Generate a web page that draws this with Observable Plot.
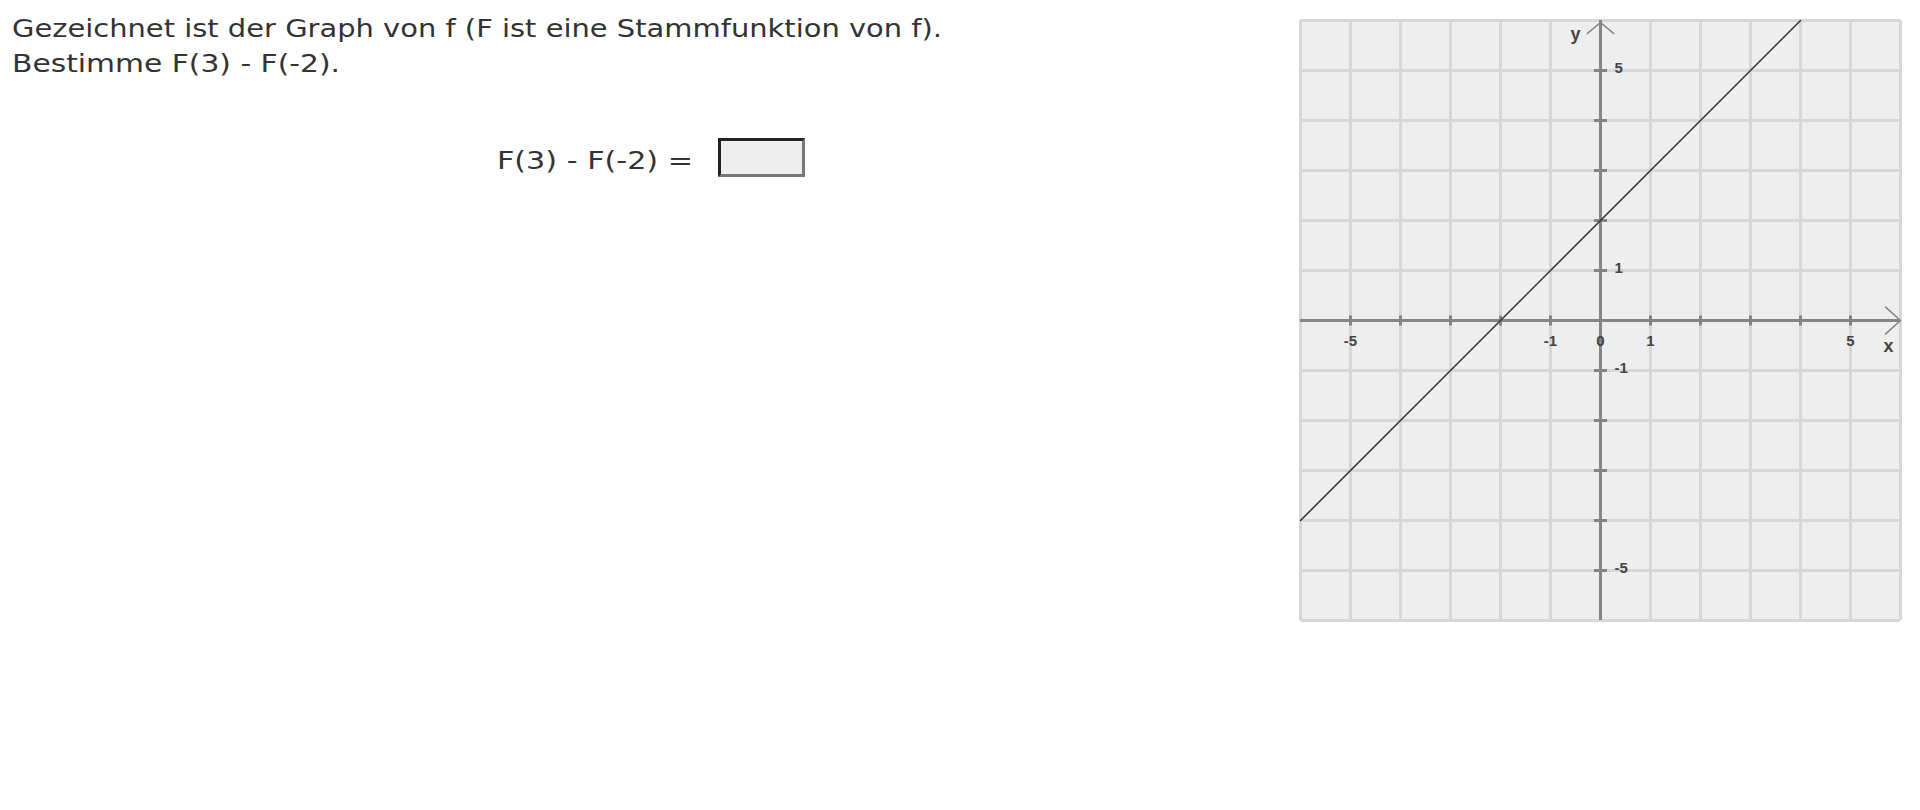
<!DOCTYPE html>
<html>
<head>
<meta charset="utf-8">
<script src="https://cdn.jsdelivr.net/npm/d3@7"></script>
<script src="https://cdn.jsdelivr.net/npm/@observablehq/plot@0.6"></script>
<style>
  html, body { margin: 0; padding: 0; background: #ffffff; }
  body { width: 1920px; height: 810px; position: relative; overflow: hidden;
         font-family: "DejaVu Sans", Verdana, sans-serif; color: #333333; }
  .txt { position: absolute; font-size: 25px; line-height: 35px; white-space: nowrap; transform-origin: 0 0; }
  #line1 { left: 12px; top: 11px; }
  #line2 { left: 12px; top: 46px; }
  #formula { left: 497px; top: 143px; }
  #answer { position: absolute; left: 718px; top: 138px; width: 87px; height: 39px; box-sizing: border-box;
            background: #eeeeee; border-style: solid; border-width: 3px;
            border-top-color: #222222; border-left-color: #222222;
            border-bottom-color: #777777; border-right-color: #777777; }
  #chart { position: absolute; left: 1290px; top: 10px; }
  #chart svg { overflow: visible; }
</style>
</head>
<body>
<span class="txt" id="line1" data-w="930">Gezeichnet ist der Graph von f (F ist eine Stammfunktion von f).</span>
<span class="txt" id="line2" data-w="328">Bestimme F(3) - F(-2).</span>
<span class="txt" id="formula" data-w="196">F(3) - F(-2) =</span>
<div id="answer"></div>
<div id="chart"></div>
<script>
// Grid / axis values
const gridValues = [-6, -5, -4, -3, -2, -1, 0, 1, 2, 3, 4, 5, 6];
const tickValues = [-5, -4, -3, -2, -1, 0, 1, 2, 3, 4, 5];
const xTickLabels = [-5, -1, 0, 1, 5];
const yTickLabels = [5, 1, -1, -5];
// Graph of f: f(x) = x + 2
const lineX = [-6, 4];
const lineY = [-4, 6];
const lineData = lineX.map((x, i) => ({x, y: lineY[i]}));
const domainMin = -6, domainMax = 6;

// widen text to the reference's (Verdana-like) widths
document.querySelectorAll(".txt").forEach(el => {
  const w = el.getBoundingClientRect().width;
  const target = +el.dataset.w;
  el.style.transform = `scaleX(${target / w})`;
});

const axisColor = "#858585";
const gridColor = "#d7d7d7";
const labelFont = "Liberation Sans, Arial, sans-serif";

const chart = Plot.plot({
  width: 620,
  height: 620,
  margin: 10,
  x: {domain: [domainMin, domainMax], axis: null},
  y: {domain: [domainMin, domainMax], axis: null},
  style: {background: "transparent", overflow: "visible"},
  marks: [
    Plot.frame({fill: "#eeeeee"}),
    Plot.ruleX(gridValues, {stroke: gridColor, strokeWidth: 3}),
    Plot.ruleY(gridValues, {stroke: gridColor, strokeWidth: 3}),
    // axes
    Plot.ruleY([0], {stroke: axisColor, strokeWidth: 3}),
    Plot.ruleX([0], {stroke: axisColor, strokeWidth: 3}),
    // tick marks on the x axis
    Plot.link(tickValues, {x1: d => d, x2: d => d, y1: () => -0.1, y2: () => 0.1, stroke: axisColor, strokeWidth: 3}),
    // tick marks on the y axis
    Plot.link(tickValues, {y1: d => d, y2: d => d, x1: () => -0.13, x2: () => 0.13, stroke: axisColor, strokeWidth: 3}),
    // arrow heads (open chevrons at the positive ends of the axes)
    Plot.arrow([{x1: 0, x2: domainMax, y1: 0, y2: 0}], {x1: "x1", x2: "x2", y1: "y1", y2: "y2", stroke: axisColor, strokeWidth: 1.5, headLength: 20, headAngle: 84}),
    Plot.arrow([{x1: 0, x2: 0, y1: 0, y2: domainMax - 0.04}], {x1: "x1", x2: "x2", y1: "y1", y2: "y2", stroke: axisColor, strokeWidth: 1.5, headLength: 17, headAngle: 100}),
    // graph of f
    Plot.line(lineData, {x: "x", y: "y", stroke: "#333333", strokeWidth: 1.5}),
    // tick labels
    Plot.text(xTickLabels, {x: d => d, y: () => 0, text: d => String(d), dy: 21, fill: "#444444", fontSize: 15, fontWeight: "bold", fontFamily: labelFont}),
    Plot.text(yTickLabels, {x: () => 0, y: d => d, text: d => String(d), dx: 14, dy: -2, textAnchor: "start", fill: "#444444", fontSize: 15, fontWeight: "bold", fontFamily: labelFont}),
    // axis names
    Plot.text(["x"], {x: () => domainMax, y: () => 0, text: d => d, dx: -12, dy: 26, fill: "#444444", fontSize: 18, fontWeight: "bold", fontFamily: labelFont}),
    Plot.text(["y"], {x: () => 0, y: () => domainMax, text: d => d, dx: -25, dy: 14, fill: "#444444", fontSize: 18, fontWeight: "bold", fontFamily: labelFont})
  ]
});
document.getElementById("chart").appendChild(chart);
</script>
</body>
</html>
